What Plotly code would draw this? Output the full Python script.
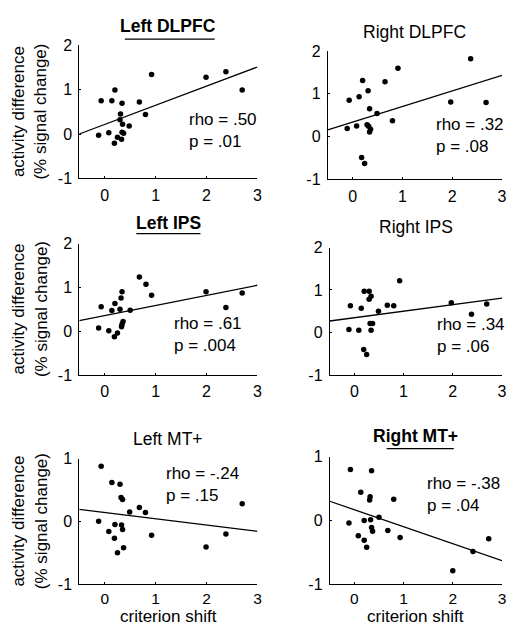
import plotly.graph_objects as go

# ---------------- data ----------------
titles = ["Left DLPFC", "Right DLPFC", "Left IPS", "Right IPS", "Left MT+", "Right MT+"]
title_bold = [True, False, True, False, False, True]

ldlpfc_x = [-0.12, -0.07, 0.08, 0.14, 0.20, 0.34, 0.31, 0.30, 0.35, 0.48, 0.34, 0.37, 0.25, 0.33, 0.19, 0.68, 0.80, 0.92, 1.99, 2.38, 2.70]
ldlpfc_y = [-0.03, 0.75, 0.03, 0.75, 0.99, 0.69, 0.45, 0.32, 0.22, 0.18, 0.04, 0.02, -0.07, -0.12, -0.21, 0.72, 0.44, 1.34, 1.28, 1.40, 0.99]

rdlpfc_x = [-0.11, -0.07, 0.08, 0.13, 0.20, 0.31, 0.34, 0.29, 0.32, 0.36, 0.34, 0.49, 0.18, 0.24, 0.65, 0.80, 0.91, 1.97, 2.37, 2.68]
rdlpfc_y = [0.19, 0.85, 0.25, 0.93, 1.31, 1.07, 0.65, 0.28, 0.24, 0.17, 0.11, 0.54, -0.49, -0.63, 1.28, 0.37, 1.60, 0.81, 1.82, 0.80]

lips_x = [-0.12, -0.07, 0.08, 0.14, 0.20, 0.19, 0.25, 0.30, 0.32, 0.34, 0.36, 0.34, 0.33, 0.50, 0.68, 0.81, 0.92, 1.99, 2.38, 2.70]
lips_y = [0.07, 0.56, 0.01, 0.47, 0.63, -0.13, -0.04, 0.50, 0.76, 0.90, 0.22, 0.16, 0.10, 0.48, 1.24, 1.07, 0.82, 0.90, 0.54, 0.87]

rips_x = [-0.11, -0.08, 0.09, 0.14, 0.20, 0.19, 0.25, 0.30, 0.30, 0.34, 0.32, 0.37, 0.34, 0.49, 0.67, 0.80, 0.92, 1.97, 2.38, 2.69]
rips_y = [0.07, 0.63, 0.05, 0.57, 0.97, -0.40, -0.52, 0.97, 0.78, 0.85, 0.21, 0.21, 0.05, 0.50, 0.64, 0.63, 1.22, 0.70, 0.43, 0.67]

lmt_x = [-0.07, -0.12, 0.14, 0.30, 0.32, 0.35, 0.20, 0.08, 0.19, 0.25, 0.37, 0.33, 0.35, 0.49, 0.68, 0.80, 0.92, 1.99, 2.38, 2.70]
lmt_y = [0.88, 0.0, 0.62, 0.59, 0.38, 0.35, -0.05, -0.16, -0.27, -0.50, -0.42, -0.06, -0.13, 0.15, 0.22, 0.14, -0.22, -0.41, -0.20, 0.28]

rmt_x = [-0.08, -0.11, 0.13, 0.08, 0.20, 0.20, 0.25, 0.35, 0.32, 0.31, 0.33, 0.35, 0.37, 0.50, 0.68, 0.80, 0.93, 2.00, 2.41, 2.73]
rmt_y = [0.80, -0.04, 0.44, -0.24, 0.0, -0.31, -0.42, 0.78, 0.37, 0.32, 0.01, -0.11, -0.17, 0.05, -0.16, 0.33, -0.27, -0.79, -0.49, -0.29]

xs = [ldlpfc_x, rdlpfc_x, lips_x, rips_x, lmt_x, rmt_x]
ys = [ldlpfc_y, rdlpfc_y, lips_y, rips_y, lmt_y, rmt_y]

fit_intercept = [0.216, 0.34, 0.356, 0.347, 0.14, 0.167]
fit_slope = [0.431, 0.364, 0.231, 0.154, -0.10, -0.266]

rho_labels = ["rho = .50", "rho = .32", "rho = .61", "rho = .34", "rho = -.24", "rho = -.38"]
p_labels = ["p = .01", "p = .08", "p = .004", "p = .06", "p = .15", "p = .04"]

x_tickvals = [0, 1, 2, 3]
x_ticktext = ["0", "1", "2", "3"]
y_tickvals_top = [-1, 0, 1, 2]
y_ticktext_top = ["-1", "0", "1", "2"]
y_tickvals_bot = [-1, 0, 1]
y_ticktext_bot = ["-1", "0", "1"]

x_label = "criterion shift"
y_label = "activity difference<br>(% signal change)"

# ---------------- layout ----------------
PAGE_W, PAGE_H = 515, 640
OFF = 8                      # default page (body) margin
W, H = PAGE_W - 2 * OFF, PAGE_H - 2 * OFF


def fx(px):
    return (px - OFF) / W


def fy(py):
    return 1 - (py - OFF) / H


boxes = [  # x0, x1, ytop, ybottom in page pixels
    (80, 260, 38, 175),
    (331, 511, 44, 176),
    (80, 260, 242, 377),
    (333, 512, 246, 377),
    (80, 260, 463, 592),
    (333, 512, 461, 592),
]
# stats text block position (data coords): left x, middle y
ann_pos = [
    (1.64, 0.08),
    (1.66, 0.02),
    (1.35, -0.07),
    (1.65, -0.07),
    (1.18, 0.58),
    (1.46, 0.41),
]
title_shift = [19, 19, 21, 21, 20, 21]
underline_px = [6, 10, 8]
underline_x = [(0.256, 0.76), (0.32, 0.68), (0.33, 0.72)]

FONT = "Liberation Sans, Arial, Helvetica, sans-serif"
TXT = 17.5
fig = go.Figure()
annotations = []
shapes = []
u = 0

for i in range(6):
    k = "" if i == 0 else str(i + 1)
    xa, ya = "x" + k, "y" + k
    x0, x1, yt, yb = boxes[i]
    top_row = i < 4
    yr = [-1, 2] if top_row else [-1, 1]
    fig.add_trace(go.Scatter(
        x=xs[i], y=ys[i], mode="markers",
        marker=dict(color="black", size=5.5),
        xaxis=xa, yaxis=ya, showlegend=False, cliponaxis=False))
    lx = [-0.5, 3.0]
    ly = [fit_intercept[i] + fit_slope[i] * v for v in lx]
    fig.add_trace(go.Scatter(
        x=lx, y=ly, mode="lines", line=dict(color="black", width=1.3),
        xaxis=xa, yaxis=ya, showlegend=False))

    axis_common = dict(showgrid=False, zeroline=False, showline=True,
                       linecolor="black", linewidth=1, ticks="inside",
                       ticklen=2, tickcolor="black")
    tick_font = dict(family=FONT, size=15.5 if not top_row else 16, color="black")
    fig.update_layout({
        ("xaxis" + k): dict(domain=[fx(x0), min(fx(x1), 1.0)], range=[-0.5, 3.0],
                             tickvals=x_tickvals, ticktext=x_ticktext,
                             anchor=ya, ticklabelstandoff=2 if top_row else 0,
                             tickfont=tick_font, **axis_common),
        ("yaxis" + k): dict(domain=[fy(yb), fy(yt)], range=yr,
                             tickvals=y_tickvals_top if top_row else y_tickvals_bot,
                             ticktext=y_ticktext_top if top_row else y_ticktext_bot,
                             anchor=xa, ticklabelstandoff=3,
                             tickfont=dict(family=FONT, size=16, color="black"),
                             **axis_common),
    })

    # title
    t = ("<b>%s</b>" % titles[i]) if title_bold[i] else titles[i]
    annotations.append(dict(text=t, xref=xa + " domain", yref=ya + " domain",
                            x=0.5, y=1, yanchor="middle", yshift=title_shift[i],
                            showarrow=False,
                            font=dict(family=FONT, size=TXT, color="black")))
    if title_bold[i]:
        shapes.append(dict(type="line", xref=xa + " domain", yref=ya + " domain",
                           ysizemode="pixel", yanchor=1,
                           x0=underline_x[u][0], x1=underline_x[u][1],
                           y0=underline_px[u], y1=underline_px[u],
                           line=dict(color="black", width=1.3)))
        u += 1
    # stats block
    ax_, ay_ = ann_pos[i]
    annotations.append(dict(text=rho_labels[i] + "<br>" + p_labels[i],
                            xref=xa, yref=ya, x=ax_, y=ay_, align="left",
                            xanchor="left", yanchor="middle", showarrow=False,
                            borderpad=0,
                            font=dict(family=FONT, size=17, color="black")))
    # y label for left column
    if i % 2 == 0:
        annotations.append(dict(text=y_label, xref="paper", yref=ya + " domain",
                                x=fx(30), y=0.5, xanchor="center", yanchor="middle",
                                textangle=-90, showarrow=False, borderpad=0,
                                font=dict(family=FONT, size=17, color="black")))
    if i >= 4:
        annotations.append(dict(text=x_label, xref=xa + " domain", yref="paper",
                                x=0.5, y=0, xanchor="center", yanchor="bottom",
                                yshift=-4, showarrow=False, borderpad=0,
                                font=dict(family=FONT, size=17, color="black")))

fig.update_layout(annotations=annotations, shapes=shapes)
fig.update_layout(width=W, height=H, margin=dict(l=0, r=0, t=0, b=0),
                  paper_bgcolor="white", plot_bgcolor="white",
                  font=dict(family=FONT, color="black"))
fig.write_html("out.html", config={"displayModeBar": False})
